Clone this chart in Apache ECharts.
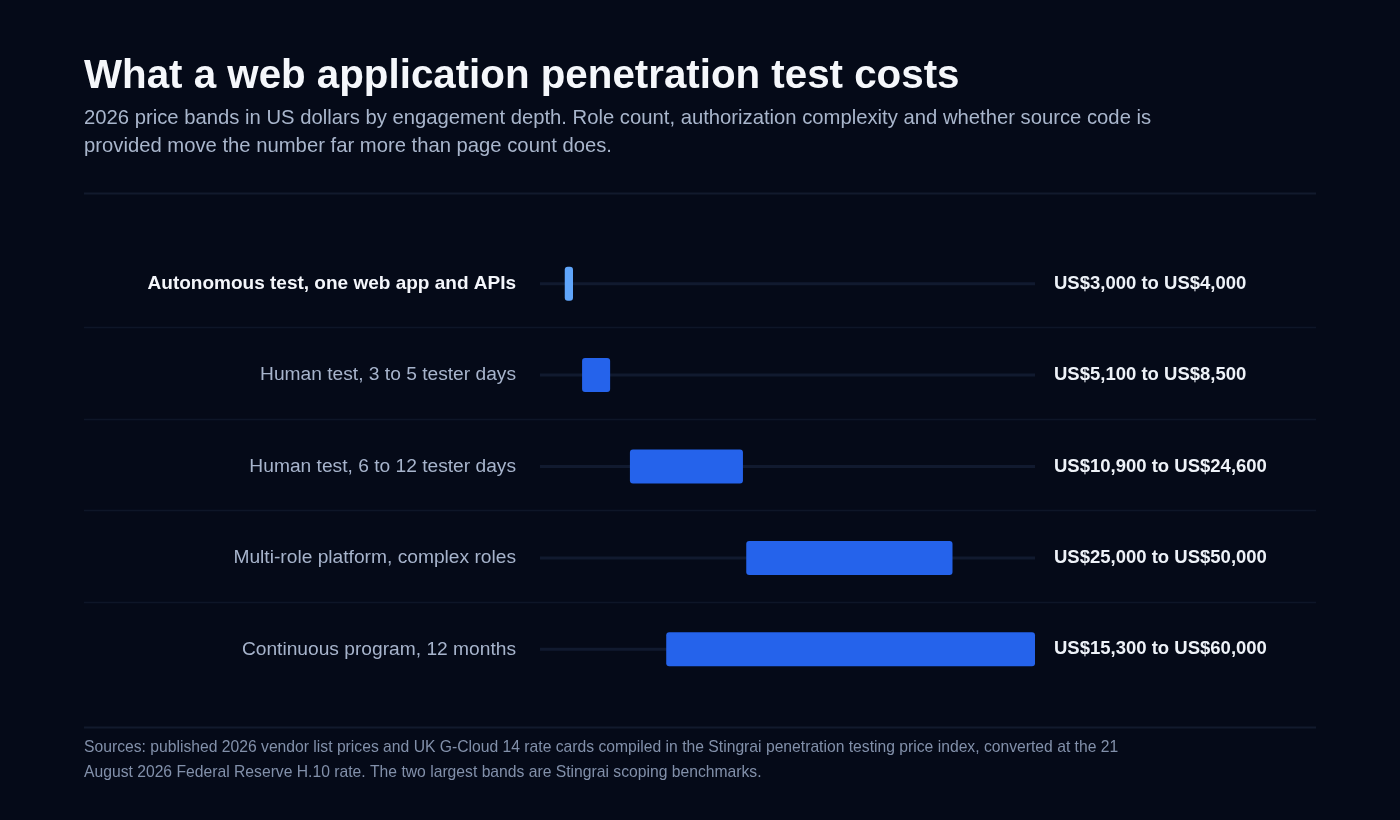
<!DOCTYPE html>
<html>
<head>
<meta charset="utf-8">
<title>Web application penetration test costs</title>
<script src="https://cdn.jsdelivr.net/npm/echarts@6/dist/echarts.min.js"></script>
<style>
  html, body { margin: 0; padding: 0; background: #050a18; }
  #chart { width: 1400px; height: 820px; }
</style>
</head>
<body>
<div id="chart"></div>
<script>
(function () {
  'use strict';

  // price bands, US dollars
  var categories = [
    'Autonomous test, one web app and APIs',
    'Human test, 3 to 5 tester days',
    'Human test, 6 to 12 tester days',
    'Multi-role platform, complex roles',
    'Continuous program, 12 months'
  ];
  var lowValues = [3000, 5100, 10900, 25000, 15300];
  var highValues = [4000, 8500, 24600, 50000, 60000];
  var axisMax = 60000;

  var FONT = '"Liberation Sans", Helvetica, Arial, sans-serif';
  var pageLeft = 84, pageRight = 1316;

  var seriesData = categories.map(function (name, i) {
    return [i, lowValues[i], highValues[i]];
  });

  function money(v) {
    return 'US$' + v.toLocaleString('en-US');
  }

  function renderItem(params, api) {
    var idx = api.value(0);
    var lo = api.coord([api.value(1), idx]);
    var hi = api.coord([api.value(2), idx]);
    var start = api.coord([0, idx]);
    var end = api.coord([axisMax, idx]);
    var band = api.size([0, 1])[1];
    var barH = 34;
    var children = [
      {
        type: 'line',
        shape: { x1: start[0], y1: start[1], x2: end[0], y2: end[1] },
        style: { stroke: '#111a2f', lineWidth: 3 }
      },
      {
        type: 'rect',
        shape: { x: lo[0], y: lo[1] - barH / 2, width: hi[0] - lo[0], height: barH, r: 3 },
        style: { fill: idx === 0 ? '#60a5fa' : '#2563eb' }
      },
      {
        type: 'text',
        style: {
          text: money(api.value(1)) + ' to ' + money(api.value(2)),
          x: end[0] + 19,
          y: end[1],
          fill: '#eef2f8',
          font: 'bold 18.5px ' + FONT,
          align: 'left',
          verticalAlign: 'middle'
        }
      }
    ];
    // row divider below each band except the last
    if (idx < categories.length - 1) {
      var sy = Math.round(lo[1] + band / 2) - 1.5;
      children.push({
        type: 'line',
        shape: { x1: pageLeft, y1: sy, x2: pageRight, y2: sy },
        style: { stroke: '#0e1628', lineWidth: 1.5 }
      });
    }
    return { type: 'group', children: children };
  }

  var myChart = echarts.init(document.getElementById('chart'));
  var option = {
    backgroundColor: '#050a18',
    animation: false,
    title: [
      {
        text: 'What a web application penetration test costs',
        left: pageLeft,
        top: 57,
        padding: 0,
        textStyle: { color: '#f5f7fb', fontSize: 40.3, fontWeight: 'bold', fontFamily: FONT, lineHeight: 40 }
      },
      {
        text: '2026 price bands in US dollars by engagement depth. Role count, authorization complexity and whether source code is\nprovided move the number far more than page count does.',
        left: pageLeft,
        top: 104,
        padding: 0,
        textStyle: { color: '#a9b6cc', fontSize: 20.25, fontWeight: 'normal', fontFamily: FONT, lineHeight: 28 }
      },
      {
        text: 'Sources: published 2026 vendor list prices and UK G-Cloud 14 rate cards compiled in the Stingrai penetration testing price index, converted at the 21\nAugust 2026 Federal Reserve H.10 rate. The two largest bands are Stingrai scoping benchmarks.',
        left: pageLeft,
        top: 735,
        padding: 0,
        textStyle: { color: '#8290aa', fontSize: 15.7, fontWeight: 'normal', fontFamily: FONT, lineHeight: 25 }
      }
    ],
    graphic: [
      {
        type: 'line',
        shape: { x1: pageLeft, y1: 193.5, x2: pageRight, y2: 193.5 },
        style: { stroke: '#121a2d', lineWidth: 2 }
      },
      {
        type: 'line',
        shape: { x1: pageLeft, y1: 727.5, x2: pageRight, y2: 727.5 },
        style: { stroke: '#121a2d', lineWidth: 2 }
      }
    ],
    grid: {
      left: 540,
      width: 495,
      top: 238,
      height: 457,
      containLabel: false,
      outerBoundsMode: 'none'
    },
    xAxis: {
      type: 'value',
      min: 0,
      max: axisMax,
      show: false
    },
    yAxis: {
      type: 'category',
      inverse: true,
      data: categories,
      axisLine: { show: false },
      axisTick: { show: false },
      splitLine: { show: false },
      axisLabel: {
        margin: 24,
        formatter: function (value, index) {
          return index === 0 ? '{b|' + value + '}' : '{n|' + value + '}';
        },
        rich: {
          b: { color: '#f4f6fb', fontSize: 19, fontWeight: 'bold', fontFamily: FONT },
          n: { color: '#a7b4cc', fontSize: 19.2, fontWeight: 'normal', fontFamily: FONT }
        }
      }
    },
    series: [
      {
        type: 'custom',
        renderItem: renderItem,
        encode: { x: [1, 2], y: 0 },
        clip: false,
        data: seriesData
      }
    ]
  };
  myChart.setOption(option);
})();
</script>
</body>
</html>
